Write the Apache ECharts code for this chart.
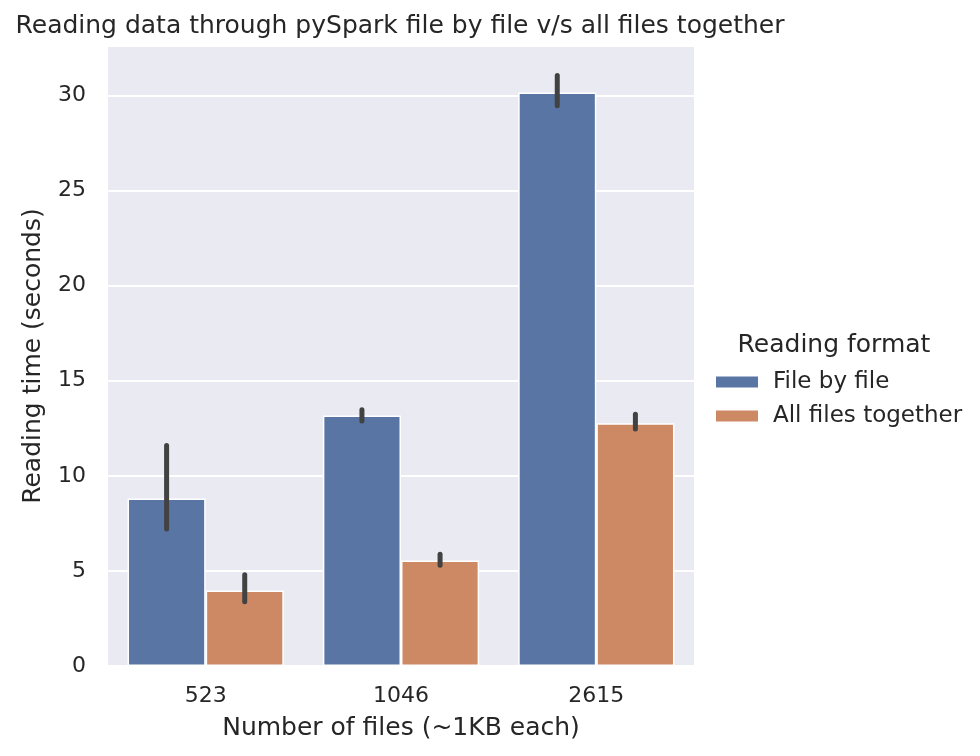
<!DOCTYPE html>
<html>
<head>
<meta charset="utf-8">
<script src="https://cdn.jsdelivr.net/npm/echarts@6/dist/echarts.min.js"></script>
<style>html,body{margin:0;padding:0;background:#fff;}#chart{width:980px;height:756px;}</style>
</head>
<body>
<div id="chart"></div>
<script>
var categories = ['523', '1046', '2615'];
var seriesNames = ['File by file', 'All files together'];
var fileByFile = [8.81, 13.17, 30.15];
var allTogether = [3.97, 5.55, 12.76];
var fileByFileLow = [7.2, 12.88, 29.46];
var fileByFileHigh = [11.6, 13.47, 31.05];
var allTogetherLow = [3.38, 5.3, 12.46];
var allTogetherHigh = [4.8, 5.88, 13.24];
var yTicks = [0, 5, 10, 15, 20, 25, 30];

var FONT = 'DejaVu Sans';
var TXT = '#262626';
var colors = ['#5975a4', '#cc8963'];

function errData(lo, hi) {
  return lo.map(function (v, i) { return [i, v, hi[i]]; });
}
function errRender(offset) {
  return function (params, api) {
    var idx = api.value(0);
    var c = api.coord([idx, 0]);
    var bw = api.size([1, 0])[0];
    var x = c[0] + offset * bw;
    var y1 = api.coord([idx, api.value(1)])[1];
    var y2 = api.coord([idx, api.value(2)])[1];
    return {
      type: 'line',
      shape: { x1: x, y1: y1, x2: x, y2: y2 },
      style: { stroke: '#424242', lineWidth: 5, lineCap: 'round' },
      z2: 10
    };
  };
}

var chart = echarts.init(document.getElementById('chart'), null, { renderer: 'canvas' });
chart.setOption({
  animation: false,
  backgroundColor: '#ffffff',
  color: colors,
  title: [
    {
      text: 'Reading data through pySpark file by file v/s all files together',
      left: 395, top: 9, textAlign: 'center',
      textStyle: { fontFamily: FONT, fontSize: 25, fontWeight: 'normal', color: TXT }
    },
    {
      text: 'Reading format',
      left: 829, top: 328, textAlign: 'center',
      textStyle: { fontFamily: FONT, fontSize: 25, fontWeight: 'normal', color: TXT }
    }
  ],
  grid: { left: 108, right: 286, top: 46, bottom: 90, show: true, backgroundColor: '#eaeaf2', borderWidth: 0 },
  legend: {
    orient: 'vertical', left: 709, top: 365,
    itemWidth: 44, itemHeight: 13, itemGap: 10,
    icon: 'rect',
    data: seriesNames,
    textStyle: { fontFamily: FONT, fontSize: 23, color: TXT, lineHeight: 24, padding: [0, 0, 0, 9] }
  },
  xAxis: {
    type: 'category', data: categories,
    name: 'Number of files (~1KB each)', nameLocation: 'middle', nameGap: 50,
    nameTextStyle: { fontFamily: FONT, fontSize: 25, color: TXT },
    axisLine: { show: false }, axisTick: { show: false },
    axisLabel: { fontFamily: FONT, fontSize: 22, color: TXT, margin: 19 },
    splitLine: { show: false }
  },
  yAxis: {
    type: 'value', min: 0, max: 32.6, interval: 5,
    name: 'Reading time (seconds)', nameLocation: 'middle', nameGap: 62,
    nameTextStyle: { fontFamily: FONT, fontSize: 25, color: TXT },
    axisLine: { show: false }, axisTick: { show: false },
    axisLabel: {
      fontFamily: FONT, fontSize: 22, color: TXT, margin: 22,
      formatter: function (v) { return yTicks.indexOf(v) >= 0 ? String(v) : ''; }
    },
    splitLine: { lineStyle: { color: '#ffffff', width: 2 } }
  },
  series: [
    {
      name: seriesNames[0], type: 'bar', data: fileByFile,
      barGap: '0%', barCategoryGap: '20%',
      itemStyle: { color: colors[0], borderColor: '#ffffff', borderWidth: 1.5 }
    },
    {
      name: seriesNames[1], type: 'bar', data: allTogether,
      barGap: '0%', barCategoryGap: '20%',
      itemStyle: { color: colors[1], borderColor: '#ffffff', borderWidth: 1.5 }
    },
    {
      type: 'custom', renderItem: errRender(-0.2), data: errData(fileByFileLow, fileByFileHigh),
      encode: { x: 0, y: [1, 2] }, z: 10, silent: true
    },
    {
      type: 'custom', renderItem: errRender(0.2), data: errData(allTogetherLow, allTogetherHigh),
      encode: { x: 0, y: [1, 2] }, z: 10, silent: true
    }
  ]
});
</script>
</body>
</html>
